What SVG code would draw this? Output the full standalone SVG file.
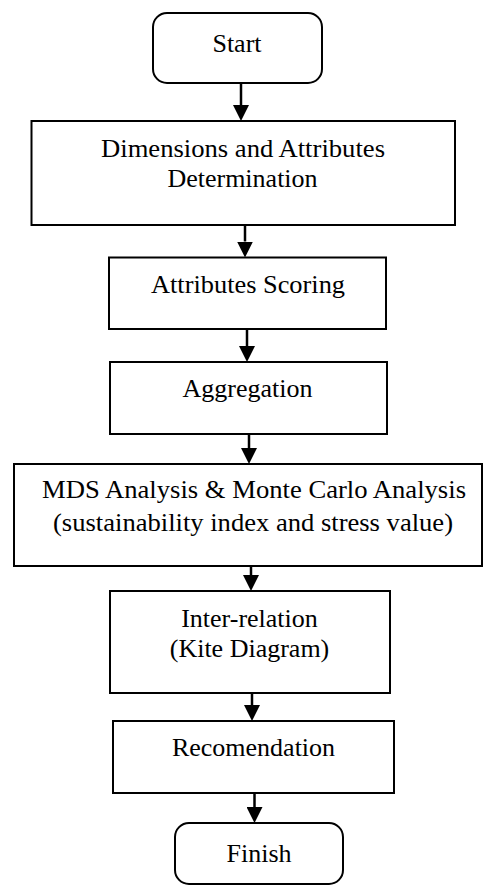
<svg xmlns="http://www.w3.org/2000/svg" width="483" height="889" viewBox="0 0 483 889">
<style>
.box{fill:#fff;stroke:#000;stroke-width:2}
.t{font-family:"Liberation Serif","Times New Roman",serif;font-size:26px;fill:#000;text-anchor:middle}
.c{stroke:#000;stroke-width:2.5;fill:none;marker-end:url(#ah)}
</style>
<defs>
<marker id="ah" markerUnits="userSpaceOnUse" markerWidth="16" markerHeight="16" viewBox="0 0 16 16" refX="0" refY="8" orient="auto">
<path d="M0,0 L16,8 L0,16 z" fill="#000"/>
</marker>
</defs>
<rect width="483" height="889" fill="#fff"/>
<g id="connectors">
<line class="c" x1="241" y1="83" x2="241" y2="105"/>
<line class="c" x1="245" y1="225" x2="245" y2="241.5"/>
<line class="c" x1="247" y1="329" x2="247" y2="346"/>
<line class="c" x1="249" y1="434" x2="249" y2="448"/>
<line class="c" x1="251" y1="566" x2="251" y2="575"/>
<line class="c" x1="252" y1="693" x2="252" y2="705"/>
<line class="c" x1="254.5" y1="793" x2="254.5" y2="807"/>
</g>
<g id="start">
<rect class="box" x="153" y="13" width="169" height="70" rx="14"/>
<text class="t" x="237" y="52">Start</text>
</g>
<g id="dimensions">
<rect class="box" x="31.5" y="121" width="423.5" height="104"/>
<text class="t" x="243" y="157" textLength="284" lengthAdjust="spacingAndGlyphs">Dimensions and Attributes</text>
<text class="t" x="242.5" y="187">Determination</text>
</g>
<g id="scoring">
<rect class="box" x="109" y="257.5" width="277" height="71.5"/>
<text class="t" x="248" y="293" textLength="194" lengthAdjust="spacingAndGlyphs">Attributes Scoring</text>
</g>
<g id="aggregation">
<rect class="box" x="110" y="362" width="277" height="72"/>
<text class="t" x="247.5" y="397">Aggregation</text>
</g>
<g id="mds">
<rect class="box" x="14" y="464" width="468" height="102"/>
<text class="t" x="254" y="498" textLength="424" lengthAdjust="spacingAndGlyphs">MDS Analysis &amp; Monte Carlo Analysis</text>
<text class="t" x="253" y="531" textLength="400" lengthAdjust="spacingAndGlyphs">(sustainability index and stress value)</text>
</g>
<g id="interrelation">
<rect class="box" x="110" y="591" width="280" height="102"/>
<text class="t" x="249.5" y="627">Inter-relation</text>
<text class="t" x="249.5" y="657">(Kite Diagram)</text>
</g>
<g id="recomendation">
<rect class="box" x="113" y="721" width="281" height="72"/>
<text class="t" x="253.5" y="756">Recomendation</text>
</g>
<g id="finish">
<rect class="box" x="175" y="823" width="168" height="61" rx="14"/>
<text class="t" x="259" y="862">Finish</text>
</g>
</svg>
